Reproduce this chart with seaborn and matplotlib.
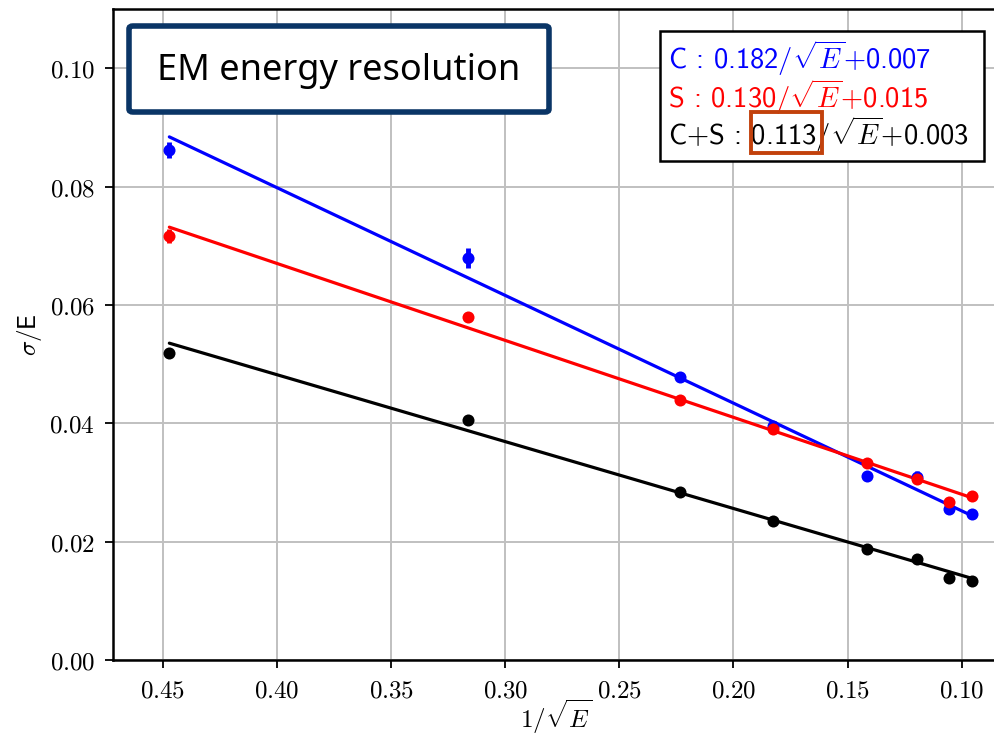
import numpy as np
import matplotlib
matplotlib.use("Agg")
import matplotlib.pyplot as plt
import seaborn as sns
from matplotlib.patches import FancyBboxPatch, Rectangle
from matplotlib.ticker import FuncFormatter

# beam energies (GeV) -> x = 1/sqrt(E)
energy = [5, 10, 20, 30, 50, 70, 90, 110]
inv_sqrt_e = [1 / np.sqrt(e) for e in energy]

# measured sigma/E
res_c = [0.0862, 0.0679, 0.0478, 0.0395, 0.0311, 0.0310, 0.0255, 0.0246]
err_c = [0.0014, 0.0017, 0.0006, 0.0005, 0.0004, 0.0010, 0.0004, 0.0003]
res_s = [0.0717, 0.0579, 0.0440, 0.0391, 0.0333, 0.0305, 0.0267, 0.0277]
err_s = [0.0012, 0.0008, 0.0006, 0.0005, 0.0004, 0.0008, 0.0004, 0.0003]
res_cs = [0.0518, 0.0405, 0.0284, 0.0235, 0.0188, 0.0171, 0.0139, 0.0134]
err_cs = [0.0008, 0.0004, 0.0003, 0.0003, 0.0003, 0.0003, 0.0003, 0.0002]

# fit parameters: sigma/E = a/sqrt(E) + b
fit_a = {"C": 0.182, "S": 0.130, "C+S": 0.113}
fit_b = {"C": 0.007, "S": 0.015, "C+S": 0.003}

sns.set_style("whitegrid", {"grid.color": "#c0c0c0", "axes.edgecolor": "black",
                            "text.color": "black", "xtick.color": "black",
                            "ytick.color": "black", "axes.labelcolor": "black"})
plt.rcParams["mathtext.fontset"] = "cm"

fig = plt.figure(figsize=(9.95, 7.36), dpi=100)
ax = fig.add_axes([113 / 995, 76 / 736, 882 / 995, 651 / 736])

series = [("C", res_c, err_c, "blue"),
          ("S", res_s, err_s, "red"),
          ("C+S", res_cs, err_cs, "black")]

x_fit = np.array([inv_sqrt_e[0], inv_sqrt_e[-1]])
for name, res, err, col in series:
    y_fit = fit_a[name] * x_fit + fit_b[name]
    sns.lineplot(x=x_fit, y=y_fit, color=col, linewidth=2.3, ax=ax, zorder=3)
    ax.errorbar(inv_sqrt_e, res, yerr=err, fmt="none", ecolor=col,
                elinewidth=3.5, capsize=0, zorder=4)
    sns.scatterplot(x=inv_sqrt_e, y=res, color=col, s=75, edgecolor=col,
                    linewidth=0, ax=ax, zorder=5)

ax.set_xlim(0.4719, 0.0854)
ax.set_ylim(0, 0.11)
ax.set_xticks([0.45, 0.40, 0.35, 0.30, 0.25, 0.20, 0.15, 0.10])
ax.set_yticks([0.00, 0.02, 0.04, 0.06, 0.08, 0.10])
fmt = FuncFormatter(lambda v, p: f"${v:.2f}$")
ax.xaxis.set_major_formatter(fmt)
ax.yaxis.set_major_formatter(fmt)
ax.tick_params(axis="both", which="major", direction="out", length=6,
               width=1.3, color="black", labelcolor="black", labelsize=18,
               pad=7, bottom=True, left=True)
ax.grid(True, color="#c0c0c0", linewidth=1.4)
for sp in ["left", "bottom", "top"]:
    ax.spines[sp].set_linewidth(1.8)
    ax.spines[sp].set_color("black")
ax.spines["right"].set_visible(False)

ax.set_xlabel(r"$1/\sqrt{E}$", fontsize=18, color="black")
ax.set_ylabel(r"$\sigma/\mathsf{E}$", fontsize=18, color="black")
ax.xaxis.set_label_coords((556 - 113) / 882, -0.058)
ax.yaxis.set_label_coords(-0.078, 0.5)

# title box
box = FancyBboxPatch((129 / 995, 1 - 112 / 736), 420 / 995, 86 / 736,
                     boxstyle="round,pad=0,rounding_size=0.004",
                     transform=fig.transFigure, facecolor="white",
                     edgecolor="#0a3566", linewidth=4, zorder=10)
fig.patches.append(box)
fig.text(339 / 995, 1 - 71 / 736, "EM energy resolution", fontsize=26,
         family="Noto Sans", color="black", ha="center", va="center", zorder=11)

# fit results box
fbox = Rectangle((660 / 995, 1 - 161 / 736), 324 / 995, 130 / 736,
                 transform=fig.transFigure, facecolor="white",
                 edgecolor="black", linewidth=1.8, zorder=10)
fig.patches.append(fbox)
lines = [("C", "blue", 58), ("S", "red", 97), ("C+S", "black", 134)]
for name, col, ypix in lines:
    label = f"{name} : {fit_a[name]:.3f}/" + r"$\sqrt{E}$" + f"+{fit_b[name]:.3f}"
    fig.text(668 / 995, 1 - ypix / 736, label, color=col, fontsize=20.5,
             family="cmss10", ha="left", va="center", zorder=11)

hl = Rectangle((751 / 995, 1 - 153 / 736), 71 / 995, 41 / 736,
               transform=fig.transFigure, facecolor="none",
               edgecolor="#c2410c", linewidth=2.8, zorder=12)
fig.patches.append(hl)

fig.savefig("out.png", dpi=100)
